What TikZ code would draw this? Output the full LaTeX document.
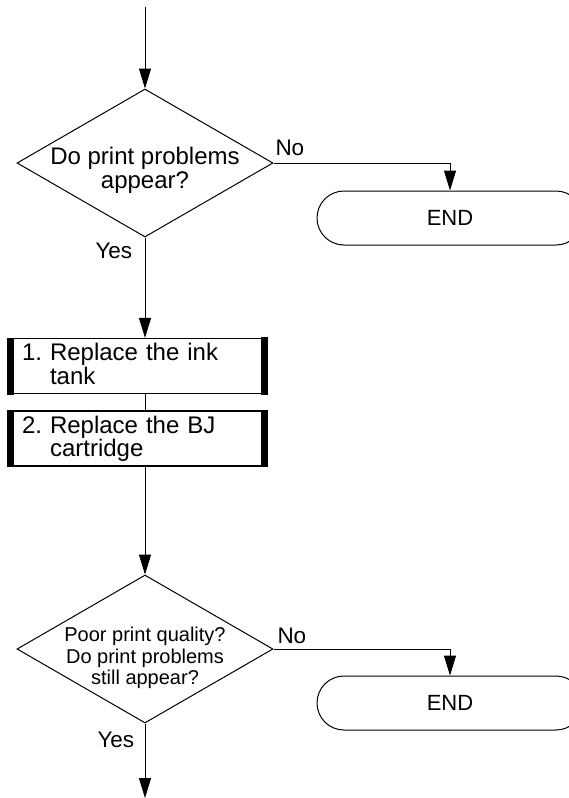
\documentclass[tikz,border=0pt]{standalone}
\usepackage{fontspec}
\setmainfont{Liberation Sans}
\usetikzlibrary{shapes.geometric,arrows.meta}
\frenchspacing
\begin{document}
\begin{tikzpicture}[x=1pt,y=-1pt,line width=1pt,
  dia/.style={diamond, draw, line width=1pt, minimum width=256pt, minimum height=148pt, inner sep=0pt},
  dtext/.style={align=center, inner sep=0pt},
  stepbox/.style={draw, line width=1.2pt, minimum height=55pt, text width=231pt, inner xsep=14pt, inner ysep=0pt,
    align=left, text height=17pt, text depth=28pt, font=\fontsize{24}{23.5}\selectfont},
  endbox/.style={draw, line width=1pt, rounded corners=27pt, minimum width=266pt, minimum height=54pt,
    font=\fontsize{22}{24}\selectfont},
  lbl/.style={font=\fontsize{22.5}{24}\selectfont, inner sep=0pt, anchor=base west},
  arr/.style={-{Triangle[length=20pt,width=12pt]}}
]
\useasboundingbox (0,0) rectangle (569,798);
\clip (0,0) rectangle (569,798);

\coordinate (top) at (145,7);
\coordinate (bot) at (145,798);

% first decision
\node[dia] (d1) at (145,163) {};
\node[dtext, font=\fontsize{24}{24}\selectfont] at ([yshift=-7pt]d1.center) {Do print problems\\appear?};
\node[endbox] (e1) at (450,218) {END};

% steps
\node[stepbox] (b1) at (137.5,366) {1. Replace the ink\\\phantom{1. }tank};
\node[stepbox] (b2) at (137.5,438.5) {2. Replace the BJ\\\phantom{2. }cartridge};
\foreach \b in {b1,b2}{
  \fill ([xshift=-0.6pt]\b.north west) rectangle ([xshift=7pt,yshift=-0.6pt]\b.south west);
  \fill ([xshift=-7pt,yshift=0.6pt]\b.north east) rectangle ([xshift=0.6pt,yshift=-0.6pt]\b.south east);
}

% second decision
\node[dia] (d2) at (145,649) {};
\node[dtext, font=\fontsize{20}{21.5}\selectfont] at ([yshift=-9pt]d2.center) {Poor print quality?\\Do print problems\\still appear?};
\node[endbox] (e2) at (450,703) {END};

% connectors
\draw[arr] (top) -- (d1.north);
\draw[arr] (d1.east) -| (e1.north);
\draw[arr] (d1.south) -- (d1.south |- b1.north);
\draw (b1.south -| d1.south) -- (b2.north -| d1.south);
\draw[arr] (b2.south -| d1.south) -- (d2.north);
\draw[arr] (d2.east) -| (e2.north);
\draw[arr] (d2.south) -- (bot);

% labels
\node[lbl] (no1) at (275,155) {No};
\node[lbl] (yes1) at (95,258) {Yes};
\node[lbl] (no2) at (277,643) {No};
\node[lbl] (yes2) at (97,747) {Yes};
\end{tikzpicture}
\end{document}
